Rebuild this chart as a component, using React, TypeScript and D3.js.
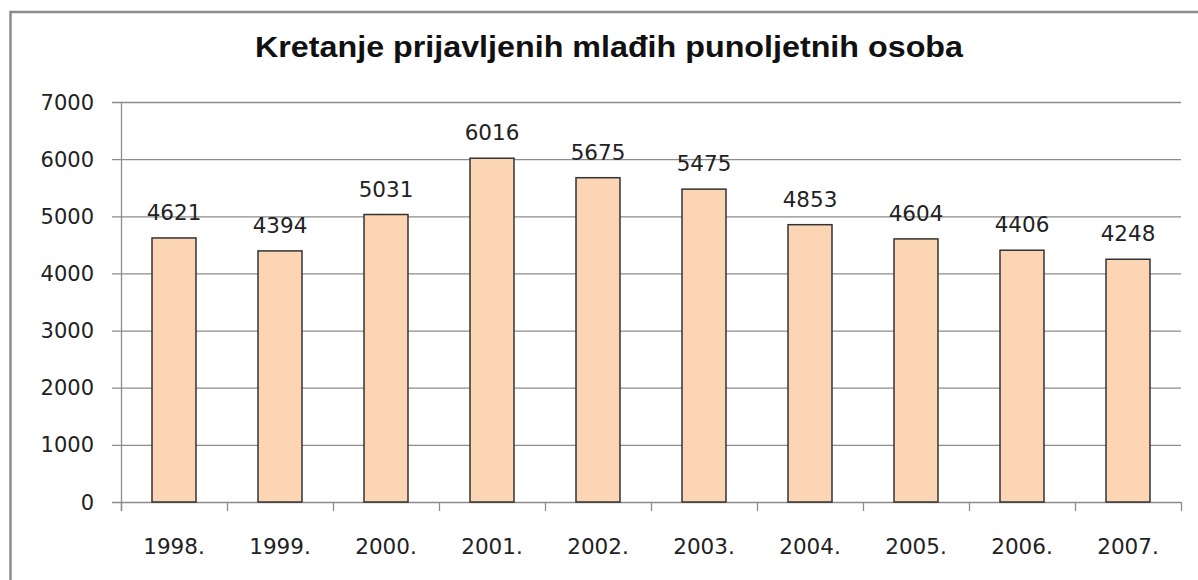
import * as d3 from "d3";
import React, { useRef, useEffect } from "react";

const years = ["1998.", "1999.", "2000.", "2001.", "2002.", "2003.", "2004.", "2005.", "2006.", "2007."];
const counts = [4621, 4394, 5031, 6016, 5675, 5475, 4853, 4604, 4406, 4248];
const yTicks = [0, 1000, 2000, 3000, 4000, 5000, 6000, 7000];
const title = "Kretanje prijavljenih mlađih punoljetnih osoba";

export default function App() {
  const svgRef = useRef<SVGSVGElement>(null);

  useEffect(() => {
    const width = 1198;
    const height = 580;
    const left = 121;
    const right = 1181;
    const top = 102;
    const bottom = 502;
    const font = "'DejaVu Sans', Verdana, sans-serif";

    const svg = d3.select(svgRef.current).attr("width", width).attr("height", height);
    svg.selectAll("*").remove();

    // chart frame
    svg
      .append("rect")
      .attr("x", 10.5)
      .attr("y", 12)
      .attr("width", 1200)
      .attr("height", 600)
      .attr("fill", "white")
      .attr("stroke", "#8c8c8c")
      .attr("stroke-width", 2.5);

    const xScale = d3.scaleBand().domain(years).range([left, right]).paddingInner(0.585).paddingOuter(0.2925);
    const yScale = d3.scaleLinear().domain([0, 7000]).range([bottom, top]);

    // gridlines + y ticks
    svg
      .selectAll("line.grid")
      .data(yTicks)
      .enter()
      .append("line")
      .attr("x1", left - 9)
      .attr("x2", right)
      .attr("y1", (d) => yScale(d) + 0.5)
      .attr("y2", (d) => yScale(d) + 0.5)
      .attr("stroke", "#8c8c8c")
      .attr("stroke-width", 1.3);

    svg
      .selectAll("text.ylab")
      .data(yTicks)
      .enter()
      .append("text")
      .attr("x", 94)
      .attr("y", (d) => yScale(d) + 7.5)
      .attr("text-anchor", "end")
      .attr("font-family", font)
      .attr("font-size", 21)
      .attr("fill", "#222")
      .text((d) => d);

    // y axis line
    svg
      .append("line")
      .attr("x1", left + 0.5)
      .attr("x2", left + 0.5)
      .attr("y1", top)
      .attr("y2", bottom + 9)
      .attr("stroke", "#8c8c8c")
      .attr("stroke-width", 1.3);

    // x ticks at band boundaries
    const step = xScale.step();
    const bounds = d3.range(years.length + 1).map((i) => left + i * step);
    svg
      .selectAll("line.xtick")
      .data(bounds)
      .enter()
      .append("line")
      .attr("x1", (d) => Math.round(d) + 0.5)
      .attr("x2", (d) => Math.round(d) + 0.5)
      .attr("y1", bottom)
      .attr("y2", bottom + 9)
      .attr("stroke", "#8c8c8c")
      .attr("stroke-width", 1.3);

    // bars
    svg
      .selectAll("rect.bar")
      .data(counts)
      .enter()
      .append("rect")
      .attr("x", (d, i) => xScale(years[i])!)
      .attr("y", (d) => yScale(d))
      .attr("width", xScale.bandwidth())
      .attr("height", (d) => bottom - yScale(d))
      .attr("fill", "#fcd5b5")
      .attr("stroke", "#333")
      .attr("stroke-width", 1.5);

    // value labels
    svg
      .selectAll("text.val")
      .data(counts)
      .enter()
      .append("text")
      .attr("x", (d, i) => xScale(years[i])! + xScale.bandwidth() / 2)
      .attr("y", (d) => yScale(d) - 18)
      .attr("text-anchor", "middle")
      .attr("font-family", font)
      .attr("font-size", 21.5)
      .attr("fill", "#222")
      .text((d) => d);

    // x labels
    svg
      .selectAll("text.xlab")
      .data(years)
      .enter()
      .append("text")
      .attr("x", (d) => xScale(d)! + xScale.bandwidth() / 2)
      .attr("y", 554)
      .attr("text-anchor", "middle")
      .attr("font-family", font)
      .attr("font-size", 21.5)
      .attr("fill", "#222")
      .text((d) => d);

    // title
    svg
      .append("text")
      .attr("x", 609)
      .attr("y", 57)
      .attr("text-anchor", "middle")
      .attr("font-family", "'Liberation Sans', Arial, sans-serif")
      .attr("font-weight", "bold")
      .attr("font-size", 29)
      .attr("textLength", 708)
      .attr("lengthAdjust", "spacingAndGlyphs")
      .attr("fill", "#111")
      .text(title);
  }, []);

  return <svg ref={svgRef} style={{ position: "absolute", left: 0, top: 0, background: "white" }}></svg>;
}
